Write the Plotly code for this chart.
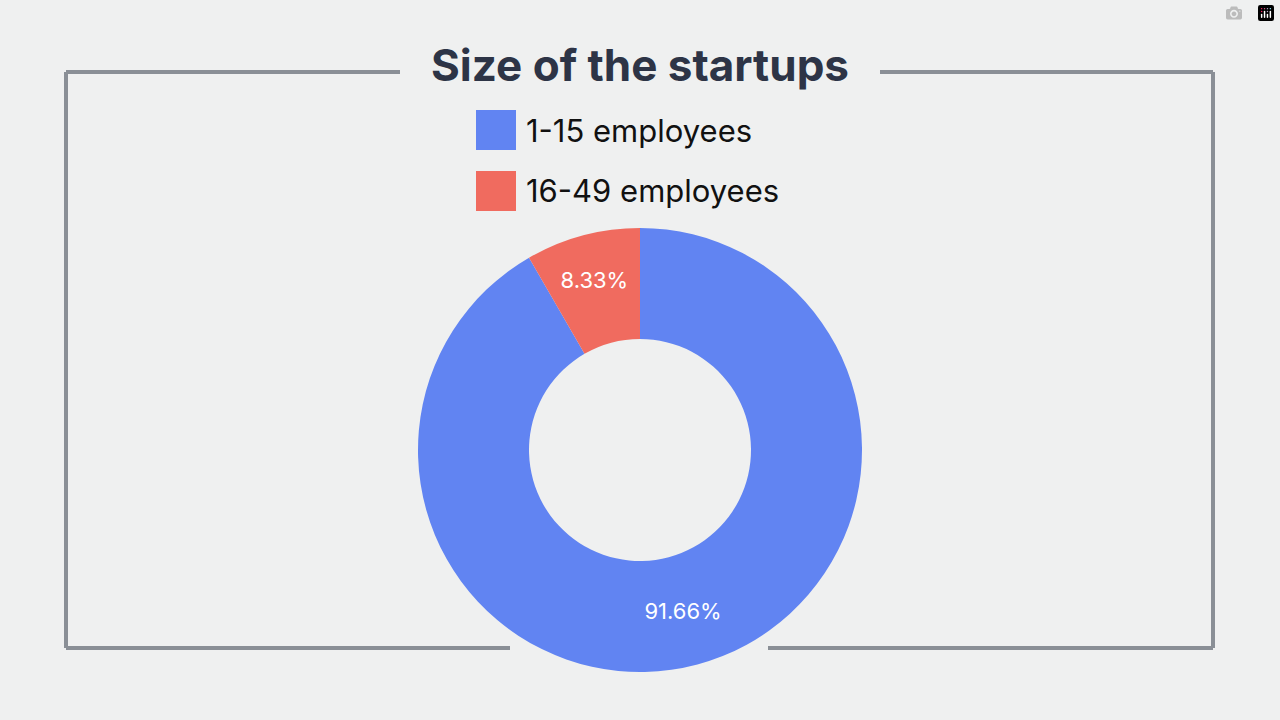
import plotly.graph_objects as go

labels = ["1-15 employees", "16-49 employees"]
values = [91.66, 8.33]
texts = ["91.66%", "8.33%"]
colors = ["#6184F2", "#F06B5F"]

W, H = 1280, 720
def px(x): return x / W
def py(y): return 1 - y / H

fig = go.Figure(go.Pie(
    labels=labels, values=values, text=texts, textinfo="text",
    hole=0.5, sort=False, direction="clockwise", rotation=0,
    marker=dict(colors=colors, line=dict(width=0)),
    textfont=dict(color="white", size=22, family="Inter"),
    insidetextorientation="horizontal",
    domain=dict(x=[px(418), px(862)], y=[py(672), py(228)]),
    hoverinfo="label+percent", showlegend=False,
))

line = dict(color="#8A8F96", width=4)
segs = [(66, 72, 400, 72), (880, 72, 1213, 72), (66, 72, 66, 648),
        (1213, 72, 1213, 648), (66, 648, 510, 648), (768, 648, 1213, 648)]
shapes = [dict(type="line", xref="paper", yref="paper", x0=px(a), y0=py(b),
               x1=px(c), y1=py(d), line=line, layer="below") for a, b, c, d in segs]

annotations = []
leg_y = [130, 191]
for lab, col, yc in zip(labels, colors, leg_y):
    shapes.append(dict(type="rect", xref="paper", yref="paper",
                       x0=px(476), x1=px(516), y0=py(yc + 20), y1=py(yc - 20),
                       fillcolor=col, line=dict(width=0)))
    annotations.append(dict(text=lab, xref="paper", yref="paper", x=px(524), y=py(yc),
                            xanchor="left", yanchor="middle", showarrow=False,
                            font=dict(size=31, color="#111111", family="Inter")))

fig.update_layout(
    width=W, height=H, paper_bgcolor="#EFF0F0", plot_bgcolor="#EFF0F0",
    margin=dict(l=0, r=0, t=0, b=0), shapes=shapes, annotations=annotations,
    title=dict(text="<b>Size of the startups</b>", x=0.5, xanchor="center",
               y=py(66), yanchor="middle",
               font=dict(size=44, color="#2D3446", family="Inter")),
)
fig.write_html("out.html")
with open("out.html", encoding="utf-8") as f:
    html = f.read()
html = html.replace("<head>", "<head><style>body{margin:0;background:#EFF0F0}</style>", 1)
with open("out.html", "w", encoding="utf-8") as f:
    f.write(html)
